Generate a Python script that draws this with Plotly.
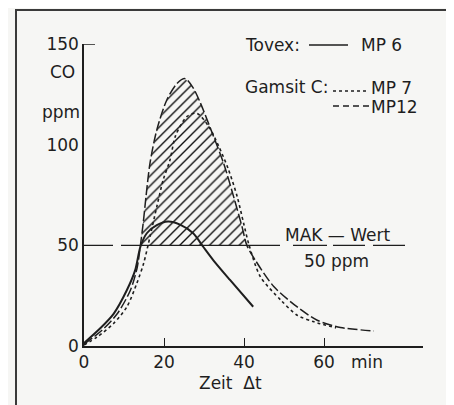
import numpy as np
import plotly.graph_objects as go

# ---- data ----
mp6_x = [0, 4, 7.4, 10.7, 12.8, 14.1, 15.7, 18.2, 21, 24, 27.3, 29.8, 32.3, 36.5, 42.3]
mp6_y = [1.5, 8.7, 16, 27.7, 37.7, 49.3, 56, 60, 61.8, 60.3, 56, 49.3, 42.7, 32.8, 19.5]

mp7_x = [0, 3.3, 7.4, 10.7, 13.2, 14.9, 16.5, 18.2, 19.8, 21.5, 22.9, 25.7, 28.2, 31.2,
         33.7, 36.0, 38.3, 39.9, 41.2, 44.1, 49.2, 53.3, 57.5, 63]
mp7_y = [0.5, 4.5, 11.2, 19.4, 31.1, 41, 54.3, 69.2, 82.5, 92.4, 104.5, 113.9, 115.6, 109,
         99.1, 88.3, 74.2, 61, 50.6, 34.4, 22.8, 15.3, 12, 9]

mp12_x = [0, 4.5, 8.3, 11.6, 13.3, 14.1, 14.8, 15.5, 16.5, 18.2, 20.7, 23.3, 25.3, 27.2,
          29.1, 32.2, 34.9, 37.4, 39.5, 40.7, 42.8, 47.5, 53.3, 58.3, 64.1, 72.5]
mp12_y = [1, 7.8, 16, 27.7, 39, 50, 61, 74.2, 90.8, 107.3, 122.2, 130.5, 132.8, 128.5,
          120.7, 105, 90.8, 74.2, 59.3, 50.1, 42.7, 29.4, 19.4, 12.8, 9.2, 7.5]

mak_value = 50
mak_x = [0, 80.4]
x_ticks = [0, 20, 40, 60]
y_ticks = [0, 50, 100, 150]

FONT = "DejaVu Sans"
INK = "#1e1e1e"
BG = "#f6f6f4"

# the page body adds an 8px margin, so the figure is 8px smaller and shifted
OFF = 8
FIG_W, FIG_H = 454 - OFF, 405 - OFF
# plot-area geometry in page pixels: x from 84 to 423, y from 44 to 346
PL, PR, PT, PB = 84, 423, 44, 346
L, T = PL - OFF, PT - OFF
R, B = FIG_W - (PR - OFF), FIG_H - (PB - OFF)
W = PR - PL
H = PB - PT


def px(xp):
    return (xp - PL) / W


def py(yp):
    return (PB - yp) / H


# hatched area: MP12 above the MAK value
ax_ = np.array(mp12_x, float)
ay_ = np.array(mp12_y, float)
idx = np.where(ay_ >= mak_value)[0]
i0, i1 = idx[0], idx[-1]
xl = np.interp(mak_value, [ay_[i0 - 1], ay_[i0]], [ax_[i0 - 1], ax_[i0]])
xr = np.interp(mak_value, [ay_[i1 + 1], ay_[i1]], [ax_[i1 + 1], ax_[i1]])
hx = [xl] + list(ax_[idx]) + [xr, xl]
hy = [mak_value] + list(ay_[idx]) + [mak_value, mak_value]

fig = go.Figure()

fig.add_trace(go.Scatter(
    x=hx, y=hy, mode="lines", fill="toself",
    fillcolor="rgba(0,0,0,0)", line=dict(width=0),
    fillpattern=dict(shape="/", fgcolor="#111111", fgopacity=1, bgcolor="rgba(0,0,0,0)",
                     size=7, solidity=0.2),
    hoverinfo="skip", showlegend=False))

fig.add_trace(go.Scatter(
    x=mak_x, y=[mak_value, mak_value], mode="lines",
    line=dict(color=INK, width=1.3,
              dash="29px,8px,159px,13px,34px,6px,32px,8px,32px,40px"),
    showlegend=False))

fig.add_trace(go.Scatter(
    x=mp7_x, y=mp7_y, mode="lines", line=dict(color=INK, width=1.6, dash="dot",
                                               shape="spline", smoothing=0.8),
    showlegend=False))

fig.add_trace(go.Scatter(
    x=mp12_x, y=mp12_y, mode="lines", line=dict(color=INK, width=1.5, dash="10px,3px",
                                                 shape="spline", smoothing=0.8),
    showlegend=False))

fig.add_trace(go.Scatter(
    x=mp6_x, y=mp6_y, mode="lines", line=dict(color=INK, width=2, shape="spline",
                                               smoothing=0.8),
    showlegend=False))

font = dict(family=FONT, size=17, color=INK)

fig.update_layout(
    width=FIG_W, height=FIG_H,
    margin=dict(l=L, r=R, t=T, b=B, pad=0),
    paper_bgcolor=BG, plot_bgcolor=BG,
    font=font,
    xaxis=dict(range=[0, 84.75], tickvals=x_ticks, ticks="inside", ticklen=8,
               tickwidth=1.4, tickcolor=INK, showline=True, linecolor=INK, linewidth=1.5,
               showgrid=False, zeroline=False, tickfont=font),
    yaxis=dict(range=[0, 150], tickvals=y_ticks, ticks="", showline=True,
               linecolor=INK, linewidth=1.5, showgrid=False, zeroline=False,
               tickfont=font),
)

shapes = []
# top tick at 150
shapes.append(dict(type="line", xref="x", yref="y", x0=0, x1=2.75, y0=150, y1=150,
                   line=dict(color=INK, width=1.5)))
# outer frame
shapes.append(dict(type="rect", xref="paper", yref="paper", x0=px(16), x1=px(447),
                   y0=py(420), y1=py(10), line=dict(color="#3a3a3a", width=2)))
# legend samples
shapes.append(dict(type="line", xref="paper", yref="paper", x0=px(309), x1=px(348),
                   y0=py(45), y1=py(45), line=dict(color=INK, width=1.5)))
shapes.append(dict(type="line", xref="paper", yref="paper", x0=px(333), x1=px(369),
                   y0=py(91), y1=py(91), line=dict(color=INK, width=1.3, dash="dot")))
shapes.append(dict(type="line", xref="paper", yref="paper", x0=px(333), x1=px(369),
                   y0=py(106), y1=py(106), line=dict(color=INK, width=1.5, dash="6px,4px")))
fig.update_layout(shapes=shapes)

ann = []


def text(t, x, y, xanchor="left"):
    ann.append(dict(text=t, x=x, y=y, xref="paper", yref="paper", xanchor=xanchor,
                    yanchor="middle", showarrow=False, font=font, borderpad=0))


text("Tovex:", px(244), py(45))
text("MP 6", px(360), py(45))
text("Gamsit C:", px(244), py(87))
text("MP 7", px(370), py(88))
text("MP12", px(370), py(107))
text("MAK — Wert", px(338), py(235), xanchor="center")
text("50 ppm", px(336), py(261), xanchor="center")
text("CO", px(76), py(72), xanchor="right")
text("ppm", px(81), py(112), xanchor="right")
text("min", px(350), py(362))
text("Zeit  Δt", px(230), py(383), xanchor="center")
fig.update_layout(annotations=ann)

fig.write_html("out.html")
